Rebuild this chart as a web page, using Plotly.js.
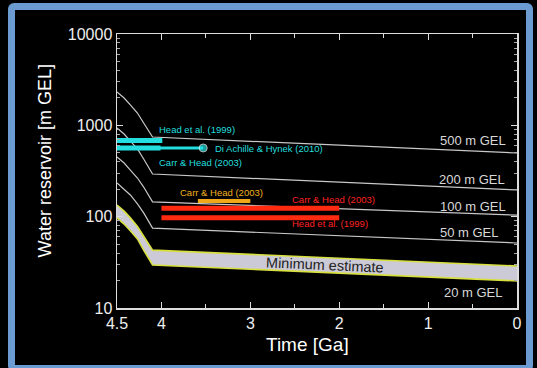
<!DOCTYPE html>
<html><head><meta charset="utf-8">
<script src="https://cdn.plot.ly/plotly-3.0.1.min.js"></script>
<style>
html,body{margin:0;padding:0;background:#000;width:537px;height:368px;overflow:hidden;}
#chart{position:absolute;left:0;top:0;width:537px;height:368px;}
#frame{position:absolute;left:8px;top:3px;width:525px;height:369px;box-sizing:border-box;border:7px solid #6b9bd0;border-radius:6px;pointer-events:none;}
</style></head><body>
<div id="chart"></div><div id="frame"></div>
<script>
// Time (Ga) sample points of the water-reservoir curves
const timeCurve = [4.5, 4.42, 4.35, 4.27, 4.2, 4.1, 0];
const gel500 = [2317, 1993, 1671, 1365, 1061, 745, 498];
const gel200 = [935, 804, 673, 551, 428, 293, 196];
const gel100 = [450, 387, 324, 265, 211, 145, 104];
const gel50  = [234, 201, 173, 138, 110, 75, 51.5];
const minTop    = [134, 115, 97, 78, 61, 43, 28.8];
const minBottom = [97, 83, 70, 57, 43, 29.6, 19.8];

// Estimates (time span in Ga, value in m GEL)
const headCyanX = [4.5, 3.99];  const headCyanY = 682;
const carrCyanX = [4.5, 4.01];  const carrCyanY = 565;
const diAchilleX = [4.5, 3.53]; const diAchilleY = 565;
const carrOrangeX = [3.59, 3.0]; const carrOrangeY = 148;
const carrRedX = [4.0, 2.0];    const carrRedY = 124;
const headRedX = [4.0, 2.0];    const headRedY = 97;

const xTickVals = [4.5, 4, 3, 2, 1, 0];
const xTickText = ['4.5', '4', '3', '2', '1', '0'];
const xMinorVals = [3.5, 2.5, 1.5, 0.5];
const yTickVals = [10, 100, 1000, 10000];
const yTickText = ['10', '100', '1000', '10000'];
const yMinorVals = [20, 30, 40, 50, 60, 70, 80, 90, 200, 300, 400, 500, 600, 700, 800, 900,
                    2000, 3000, 4000, 5000, 6000, 7000, 8000, 9000];

const curveStyle = {color: '#c8c8c8', width: 1.2};
const traces = [
  {x: timeCurve, y: minBottom, mode: 'lines', line: {color: '#d8e040', width: 1.6}},
  {x: timeCurve, y: minTop, mode: 'lines', line: {color: '#d8e040', width: 1.6}, fill: 'tonexty', fillcolor: '#cbcad6'},
  {x: timeCurve, y: gel50, mode: 'lines', line: curveStyle},
  {x: timeCurve, y: gel100, mode: 'lines', line: curveStyle},
  {x: timeCurve, y: gel200, mode: 'lines', line: curveStyle},
  {x: timeCurve, y: gel500, mode: 'lines', line: curveStyle},
  {x: diAchilleX, y: [diAchilleY, diAchilleY], mode: 'lines+markers', line: {color: '#22dede', width: 3}, marker: {color: '#22dede', size: [0, 8]}},
  {x: carrCyanX, y: [carrCyanY, carrCyanY], mode: 'lines', line: {color: '#22dede', width: 5}},
  {x: headCyanX, y: [headCyanY, headCyanY], mode: 'lines', line: {color: '#22dede', width: 5}},
  {x: carrOrangeX, y: [carrOrangeY, carrOrangeY], mode: 'lines', line: {color: '#f0a818', width: 4}},
  {x: carrRedX, y: [carrRedY, carrRedY], mode: 'lines', line: {color: '#ff2a10', width: 5}},
  {x: headRedX, y: [headRedY, headRedY], mode: 'lines', line: {color: '#ff2a10', width: 5}}
];

const F = 'Liberation Sans, Arial, sans-serif';
function lab(text, x, ly, color, size, extra) {
  return Object.assign({text: text, x: x, y: ly, xref: 'x', yref: 'y', showarrow: false,
    xanchor: 'left', yanchor: 'middle', font: {family: F, size: size, color: color}}, extra || {});
}
const annotations = [
  lab('Head et al. (1999)', 4.05, 2.949, '#22dede', 9.5),
  lab('Di Achille &amp; Hynek (2010)', 3.42, 2.741, '#22dede', 9.5),
  lab('Carr &amp; Head (2003)', 4.05, 2.598, '#22dede', 9.5),
  lab('Carr &amp; Head (2003)', 3.814, 2.270, '#f0b020', 9.5),
  lab('Carr &amp; Head (2003)', 2.554, 2.193, '#ff2020', 9.5),
  lab('Head et al. (1999)', 2.554, 1.920, '#ff2020', 9.5),
  lab('500 m GEL', 0.889, 2.839, '#d8d8d8', 13),
  lab('200 m GEL', 0.90, 2.412, '#d8d8d8', 13),
  lab('100 m GEL', 0.889, 2.106, '#d8d8d8', 13),
  lab('50 m GEL', 0.889, 1.832, '#d8d8d8', 13),
  lab('20 m GEL', 0.844, 1.175, '#d8d8d8', 13),
  lab('Minimum estimate', 2.16, 1.471, '#222222', 14.5, {xanchor: 'center', textangle: 2.5}),
  {text: 'Time [Ga]', xref: 'paper', yref: 'paper', x: 0.475, y: -0.135, xanchor: 'center', yanchor: 'middle',
   showarrow: false, font: {family: F, size: 19, color: '#ffffff'}},
  {text: 'Water reservoir [m GEL]', xref: 'paper', yref: 'paper', x: -0.18, y: 0.535, xanchor: 'center', yanchor: 'middle',
   showarrow: false, textangle: -90, font: {family: F, size: 18, color: '#ffffff'}}
];

const layout = {
  width: 537, height: 368,
  margin: {l: 117, r: 20, t: 34, b: 60},
  paper_bgcolor: '#000000', plot_bgcolor: '#000000',
  showlegend: false,
  xaxis: {range: [4.5, 0], tickvals: xTickVals, ticktext: xTickText, ticks: 'inside', ticklen: 6,
    tickcolor: '#dddddd', showgrid: false, zeroline: false, showline: true, linecolor: '#dddddd', linewidth: 1.5,
    mirror: 'ticks', tickfont: {family: F, size: 16, color: '#eeeeee'},
    minor: {tickvals: xMinorVals, ticks: 'inside', ticklen: 4, tickcolor: '#dddddd'}},
  yaxis: {type: 'log', range: [1, 4], tickvals: yTickVals, ticktext: yTickText, ticks: 'inside', ticklen: 6,
    tickcolor: '#dddddd', showgrid: false, zeroline: false, showline: true, linecolor: '#dddddd', linewidth: 1.5,
    mirror: 'ticks', tickfont: {family: F, size: 16, color: '#eeeeee'},
    minor: {tickvals: yMinorVals, ticks: 'inside', ticklen: 3, tickcolor: '#aaaaaa'}},
  annotations: annotations
};
Plotly.newPlot('chart', traces, layout, {staticPlot: true, displayModeBar: false});
</script></body></html>
